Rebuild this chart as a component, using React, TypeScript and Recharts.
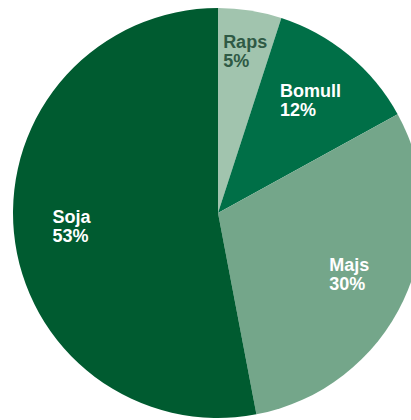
import { PieChart, Pie, Cell } from "recharts";

const crops = ["Raps", "Bomull", "Majs", "Soja"];
const shares = [5, 12, 30, 53];
const sliceColors = ["#a1c4ae", "#006f47", "#74a68a", "#005b30"];
const labelColors = ["#2f5a45", "#ffffff", "#ffffff", "#ffffff"];

const data = crops.map((name, i) => ({ name, value: shares[i] }));

const RAD = Math.PI / 180;
const FONT = 18;

const renderLabel = (props: any) => {
  const { cx, cy, midAngle, outerRadius, percent, index, name, value } = props;
  const r = outerRadius * (percent < 0.1 ? 0.8 : 0.71);
  const x = cx + r * Math.cos(-midAngle * RAD);
  const y = cy + r * Math.sin(-midAngle * RAD);
  const pct = `${value}%`;
  const half = (Math.max(name.length, pct.length) * 0.57 * FONT) / 2;
  return (
    <text
      x={x - half}
      y={y}
      fill={labelColors[index]}
      fontSize={FONT}
      fontWeight={700}
      fontFamily="'Liberation Sans', Arial, sans-serif"
      textAnchor="start"
    >
      <tspan x={x - half} y={y - 3.5}>
        {name}
      </tspan>
      <tspan x={x - half} y={y + 15.5}>
        {pct}
      </tspan>
    </text>
  );
};

const App = () => {
  return (
    <div style={{ position: "absolute", left: 0, top: 0, width: 411, height: 420, background: "#fff" }}>
      <PieChart width={411} height={420} margin={{ top: 0, right: 0, bottom: 0, left: 0 }}>
        <Pie
          data={data}
          dataKey="value"
          nameKey="name"
          cx={218}
          cy={213}
          outerRadius={205}
          startAngle={90}
          endAngle={-270}
          stroke="none"
          labelLine={false}
          label={renderLabel}
          isAnimationActive={false}
        >
          {data.map((d, i) => (
            <Cell key={d.name} fill={sliceColors[i]} />
          ))}
        </Pie>
      </PieChart>
    </div>
  );
};

export default App;
